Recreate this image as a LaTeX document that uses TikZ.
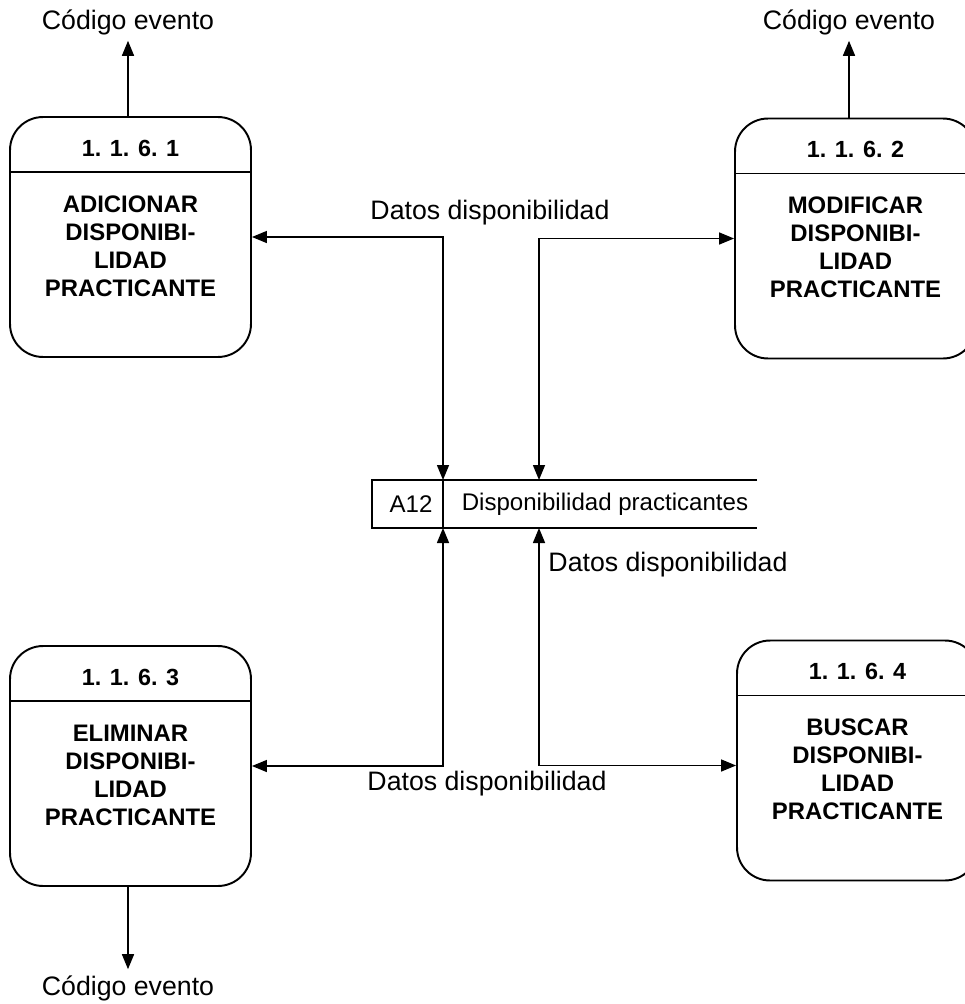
\documentclass[tikz,border=0pt]{standalone}
\usepackage{fontspec}
\setmainfont{Liberation Sans}
\usetikzlibrary{arrows.meta,calc,positioning}

\tikzset{
  proc/.style={draw, line width=1.1pt, rounded corners=0.66cm, minimum width=4.82cm, minimum height=4.8cm, inner sep=0pt},
  num/.style={font=\fontsize{13.3}{16}\selectfont\bfseries},
  txt/.style={font=\fontsize{13.6}{15.9}\selectfont\bfseries, align=center},
  lbl/.style={font=\fontsize{15.2}{18}\selectfont},
  store/.style={font=\fontsize{13.7}{16}\selectfont},
  flow/.style={line width=0.85pt, -{Triangle[length=0.3cm,width=0.24cm]}},
  flows/.style={line width=0.85pt, {Triangle[length=0.3cm,width=0.24cm]}-{Triangle[length=0.3cm,width=0.24cm]}},
}

\begin{document}
\begin{tikzpicture}[x=0.02cm, y=-0.02cm]
\useasboundingbox (0,0) rectangle (964,1004);

% procesos
\foreach \n/\x/\y/\name in {1/130.5/237/ADICIONAR, 2/855.5/238.5/MODIFICAR, 3/130.5/766/ELIMINAR, 4/857.5/760.5/BUSCAR}{
  \node[proc] (p\n) at (\x,\y) {};
  \node[num] (n\n) at ($(p\n.north)+(0,32)$) {1. 1. 6. \n};
  \draw[line width=0.85pt] ($(p\n.north west)+(0,56)$) -- ($(p\n.north east)+(0,56)$);
  \node[txt] (t\n) at ($(p\n.north)+(0,130)$) {\name\\DISPONIBI-\\LIDAD\\PRACTICANTE};
}

% almacen
\draw[line width=0.85pt] (757,480) -- (372,480) -- (372,528) -- (757,528);
\draw[line width=0.85pt] (443,480) -- (443,528);
\node[store] (a12) at (411,504) {A12};
\node[store] (ds) at (605,504) {Disponibilidad practicantes};
\coordinate (s1) at (443,480);
\coordinate (s2) at (539,480);
\coordinate (s3) at (443,528);
\coordinate (s4) at (539,528);

% flujos
\draw[flows] (p1.east) -| (s1);
\draw[flows] (s2) |- (p2.west);
\draw[flows] (p3.east) -| (s3);
\draw[flows] (s4) |- ($(p4.west)+(0,5)$);
\node[lbl] (d1) at (490,213) {Datos disponibilidad};
\node[lbl] (d2) at (668,565) {Datos disponibilidad};
\node[lbl] (d3) at (487,784) {Datos disponibilidad};

\node[lbl] (c1) at (128,22) {Código evento};
\node[lbl] (c2) at (849,22) {Código evento};
\node[lbl] (c3) at (128,988) {Código evento};
\draw[flow] (p1.north -| c1) -- (c1);
\draw[flow] (p2.north -| c2) -- (c2);
\draw[flow] (p3.south -| c3) -- (c3);
\end{tikzpicture}
\end{document}
